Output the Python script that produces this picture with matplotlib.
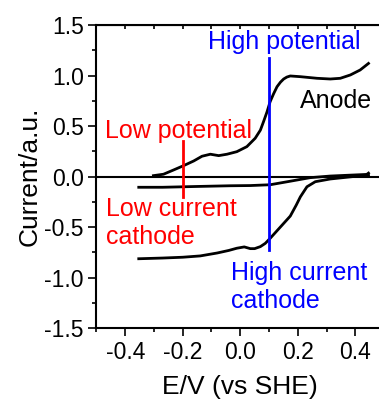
import numpy as np
import matplotlib.pyplot as plt
from matplotlib.ticker import MultipleLocator

plt.rcParams['font.family'] = ['Liberation Sans', 'DejaVu Sans']

# anodic sweep (upper curve)
anode_E = [-0.302, -0.267, -0.232, -0.197, -0.162, -0.133, -0.104, -0.075, -0.046, -0.012,
           0.023, 0.052, 0.07, 0.081, 0.093, 0.104, 0.116, 0.128, 0.14, 0.151, 0.162, 0.174,
           0.209, 0.267, 0.313, 0.348, 0.383, 0.417, 0.446]
anode_I = [0.01, 0.024, 0.066, 0.109, 0.155, 0.202, 0.222, 0.208, 0.222, 0.247,
           0.297, 0.38, 0.46, 0.544, 0.64, 0.742, 0.82, 0.89, 0.935, 0.966, 0.985, 0.996,
           0.989, 0.973, 0.966, 0.973, 1.006, 1.055, 1.12]

# return sweep near zero
ret_E = [-0.353, -0.27, -0.15, -0.035, 0.035, 0.104, 0.174, 0.243, 0.313, 0.383, 0.44, 0.446]
ret_I = [-0.105, -0.105, -0.097, -0.09, -0.088, -0.08, -0.045, -0.01, 0.006, 0.015, 0.022, 0.035]

# cathodic curve (lower)
cath_E = [-0.353, -0.27, -0.2, -0.139, -0.08, -0.04, -0.012, 0.014, 0.035, 0.05, 0.07, 0.087,
          0.104, 0.139, 0.174, 0.195, 0.209, 0.232, 0.261, 0.313, 0.383, 0.446]
cath_I = [-0.812, -0.805, -0.797, -0.784, -0.755, -0.73, -0.708, -0.695, -0.712, -0.712, -0.692, -0.66,
          -0.61, -0.5, -0.39, -0.28, -0.2, -0.1, -0.05, -0.023, -0.002, 0.017]

low_E = -0.2
low_span = [-0.2, 0.35]
high_E = 0.1
high_span = [-0.73, 1.17]

fig = plt.figure(figsize=(3.79, 3.99), dpi=100)
ax = fig.add_axes([0.2546, 0.1772, 0.7586, 0.7601])

ax.plot(anode_E, anode_I, color='black', lw=2)
ax.plot(ret_E, ret_I, color='black', lw=2)
ax.plot(cath_E, cath_I, color='black', lw=2)
ax.axhline(0, color='black', lw=1.5)

ax.plot([low_E, low_E], low_span, color='red', lw=2)
ax.plot([high_E, high_E], high_span, color='blue', lw=2)

ax.text(0.154, 1.33, 'High potential', color='blue', fontsize=18, ha='center', va='center')
ax.text(0.334, 0.75, 'Anode', color='black', fontsize=18, ha='center', va='center')
ax.text(-0.214, 0.45, 'Low potential', color='red', fontsize=18, ha='center', va='center')
ax.text(-0.466, -0.46, 'Low current\ncathode', color='red', fontsize=18,
        ha='left', va='center', linespacing=1.2)
ax.text(-0.031, -1.09, 'High current\ncathode', color='blue', fontsize=18,
        ha='left', va='center', linespacing=1.2)

ax.set_xlim(-0.5, 0.5)
ax.set_ylim(-1.5, 1.5)
ax.xaxis.set_major_locator(MultipleLocator(0.2))
ax.xaxis.set_minor_locator(MultipleLocator(0.1))
ax.yaxis.set_major_locator(MultipleLocator(0.5))
ax.yaxis.set_minor_locator(MultipleLocator(0.25))
ax.set_xticks([-0.4, -0.2, 0.0, 0.2, 0.4])
ax.set_xticklabels(['-0.4', '-0.2', '0.0', '0.2', '0.4'])
ax.set_yticklabels([f'{v:.1f}' for v in ax.get_yticks()])

for s in ax.spines.values():
    s.set_linewidth(1.5)

ax.tick_params(which='major', direction='out', length=6, width=1.2, labelsize=16.5, pad=3)
ax.tick_params(which='minor', direction='out', length=3, width=1.2)

# inward ticks along the top spine
top = ax.secondary_xaxis('top')
top.set_xticks(np.arange(-0.5, 0.51, 0.1))
top.tick_params(direction='in', length=3, width=1.2, labeltop=False)

ax.set_xlabel('E/V (vs SHE)', fontsize=19, labelpad=8)
ax.set_ylabel('Current/a.u.', fontsize=19, labelpad=2)

fig.savefig('out.png', dpi=100)
